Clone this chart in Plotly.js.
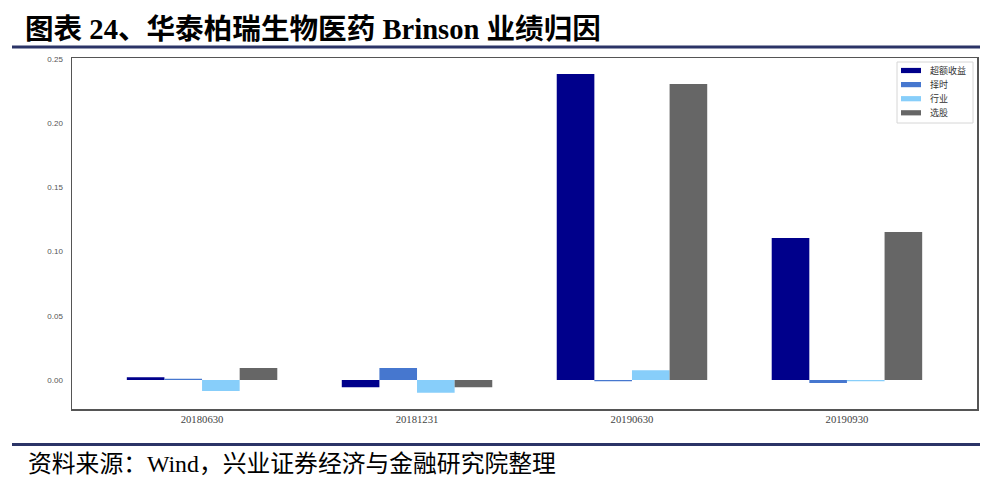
<!DOCTYPE html>
<html>
<head>
<meta charset="utf-8">
<script src="https://cdn.plot.ly/plotly-3.0.1.min.js"></script>
<style>
html,body{margin:0;padding:0;background:#fff;}
#chart{width:999px;height:487px;}
</style>
</head>
<body>
<div id="chart"></div>
<script>
const categories = ['20180630','20181231','20190630','20190930'];
const seriesNames = ['超额收益','择时','行业','选股'];
const excessReturn = [0.0022, -0.0057, 0.2383, 0.1106];
const timing = [0.0010, 0.0093, -0.0010, -0.0023];
const industry = [-0.0085, -0.0099, 0.0075, -0.0010];
const selection = [0.0093, -0.0057, 0.2305, 0.1153];
const yTickVals = [0, 0.05, 0.10, 0.15, 0.20, 0.25];
const yTickText = ['0.00','0.05','0.10','0.15','0.20','0.25'];
const titleText = '图表 24、华泰柏瑞生物医药 Brinson 业绩归因';
const sourceText = '资料来源：Wind，兴业证券经济与金融研究院整理';

const colors = ['#00008B','#4677CF','#87CEFA','#666666'];
const values = [excessReturn, timing, industry, selection];

// plot area in pixels
const PL = 72, PR = 977, PT = 58, PB = 409;
const px = v => (v - PL) / (PR - PL);
const py = v => (PB - v) / (PB - PT);

const traces = values.map((v, i) => ({
  type: 'bar',
  x: categories,
  y: v,
  name: seriesNames[i],
  marker: {color: colors[i], line: {width: 0}},
  showlegend: false,
  hoverinfo: 'x+y+name'
}));

const shapes = [
  {type: 'line', xref: 'paper', yref: 'paper', x0: px(12), x1: px(980), y0: py(47), y1: py(47),
   line: {color: '#2B3467', width: 3}},
  {type: 'line', xref: 'paper', yref: 'paper', x0: px(12), x1: px(980), y0: py(444.5), y1: py(444.5),
   line: {color: '#2B3467', width: 3}},
  // legend box
  {type: 'rect', xref: 'paper', yref: 'paper', x0: px(897), x1: px(973), y0: py(123), y1: py(62),
   fillcolor: '#ffffff', line: {color: '#d6d6d6', width: 1}}
];
const annotations = [
  {xref: 'paper', yref: 'paper', x: px(23), y: py(30), xanchor: 'left', yanchor: 'middle',
   text: '<b>' + titleText + '</b>', showarrow: false,
   font: {family: 'Liberation Serif, Noto Sans CJK SC, serif', size: 28.6, color: '#000'}},
  {xref: 'paper', yref: 'paper', x: px(26), y: py(464), xanchor: 'left', yanchor: 'middle',
   text: sourceText, showarrow: false,
   font: {family: 'Liberation Serif, Noto Sans CJK SC, serif', size: 23.8, color: '#000'}}
];
seriesNames.forEach((n, i) => {
  const cy = 70.5 + i * 14.1;
  shapes.push({type: 'rect', xref: 'paper', yref: 'paper', x0: px(901), x1: px(921),
    y0: py(cy + 2.6), y1: py(cy - 2.6), fillcolor: colors[i], line: {width: 0}});
  annotations.push({xref: 'paper', yref: 'paper', x: px(928), y: py(cy), xanchor: 'left', yanchor: 'middle',
    text: n, showarrow: false,
    font: {family: 'Noto Sans CJK SC, sans-serif', size: 9, color: '#333'}});
});

const layout = {
  width: 999,
  height: 487,
  margin: {l: PL, r: 999 - PR, t: PT, b: 487 - PB},
  paper_bgcolor: '#ffffff',
  plot_bgcolor: '#ffffff',
  barmode: 'group',
  bargap: 0.3,
  bargroupgap: 0,
  showlegend: false,
  xaxis: {
    type: 'category',
    range: [-0.605, 3.605],
    showgrid: false, zeroline: false,
    showline: true, mirror: true, linecolor: '#555', linewidth: 1.5,
    ticks: '',
    tickfont: {family: 'Liberation Serif, serif', size: 10.7, color: '#444'},
    fixedrange: true
  },
  yaxis: {
    range: [-0.0226, 0.2508],
    tickvals: yTickVals,
    ticktext: yTickText,
    showgrid: false, zeroline: false,
    showline: true, mirror: true, linecolor: '#555', linewidth: 1.5,
    ticks: '',
    ticklabelstandoff: 6,
    tickfont: {family: 'Liberation Sans, Arial, sans-serif', size: 8, color: '#555'},
    fixedrange: true
  },
  shapes: shapes,
  annotations: annotations
};

Plotly.newPlot('chart', traces, layout, {displayModeBar: false, staticPlot: true});
</script>
</body>
</html>
